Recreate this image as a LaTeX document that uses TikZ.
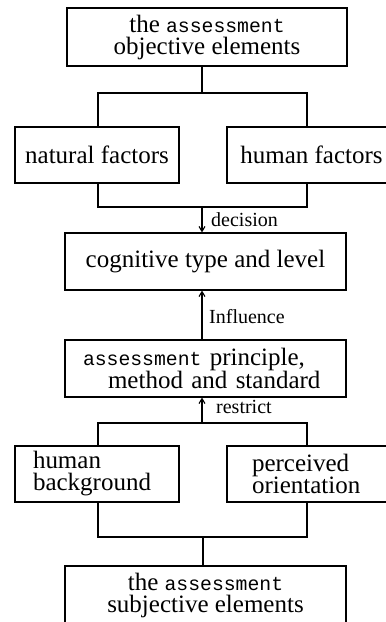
\documentclass[tikz,border=0pt]{standalone}
\usepackage{fontspec}
\setmainfont{Liberation Serif}
\newfontfamily\codefont{Liberation Mono}[Scale=0.79]
\usetikzlibrary{arrows.meta}
\newcommand{\asmt}{{\codefont assessment}}

\begin{document}
\begin{tikzpicture}[x=1pt,y=-1pt,
  box/.style={draw, line width=1.1pt, inner sep=0pt, align=center,
              font=\fontsize{25}{22}\selectfont},
  sidebox/.style={box, align=left, minimum height=56pt},
  link/.style={line width=1.1pt},
  flow/.style={line width=1.1pt, -{Straight Barb[length=5pt,width=6pt]}},
  tag/.style={font=\fontsize{20}{22}\selectfont, anchor=base west, inner sep=0pt}]
\useasboundingbox (0,0) rectangle (386,622);
\clip (0,0) rectangle (386,622);

% boxes
\node[box, minimum width=280pt, minimum height=58pt] (top) at (207,37)
  {the \asmt\\objective elements};
\node[box, minimum width=164pt, minimum height=56pt] (nat) at (97,155) {natural factors};
\node[box, minimum width=169pt, minimum height=56pt] (hum) at (311.5,155) {human factors};
\node[box, minimum width=281pt, minimum height=57pt] (cog) at (205.5,261.5) {cognitive type and level};
\node[box, align=left, text width=245pt, inner xsep=18pt, minimum height=57pt] (asm) at (205.5,368.5)
  {\asmt{} principle,\\\hspace*{25pt}method and standard};
\node[sidebox, text width=128pt, inner xsep=18pt] (hbg) at (97,474) {human\\background};
\node[sidebox, text width=119pt, inner xsep=25pt] (per) at (311.5,474) {perceived\\orientation};
\node[box, minimum width=281pt, minimum height=59pt] (bot) at (205.5,595.5)
  {the \asmt\\subjective elements};

% junction points of the brackets
\coordinate (j1) at (202,93);   \coordinate (l1) at (98,93);   \coordinate (r1) at (307,93);
\coordinate (j2) at (202,207);  \coordinate (l2) at (98,207);  \coordinate (r2) at (307,207);
\coordinate (j3) at (202,423);  \coordinate (l3) at (98,423);  \coordinate (r3) at (307,423);
\coordinate (j4) at (203,537);  \coordinate (l4) at (98,537);  \coordinate (r4) at (307,537);

% objective elements split into the two factors
\draw[link] (top.south -| j1) -- (j1);
\draw[link] (nat.north -| l1) -- (l1) -- (r1) -- (hum.north -| r1);
% factors join and decide the cognition
\draw[link] (nat.south -| l2) -- (l2) -- (r2) -- (hum.south -| r2);
\draw[flow] (j2) -- (cog.north -| j2);
\node[tag] (tdec) at (211,226) {decision};
% principle influences cognition
\draw[flow] (asm.north -| j2) -- (cog.south -| j2);
\node[tag] (tinf) at (209,323) {Influence};
% background and orientation restrict the principle
\draw[link] (hbg.north -| l3) -- (l3) -- (r3) -- (per.north -| r3);
\draw[flow] (j3) -- (asm.south -| j3);
\node[tag] (tres) at (216,413) {restrict};
% subjective elements split into background and orientation
\draw[link] (hbg.south -| l4) -- (l4) -- (r4) -- (per.south -| r4);
\draw[link] (j4) -- (bot.north -| j4);
\end{tikzpicture}
\end{document}
